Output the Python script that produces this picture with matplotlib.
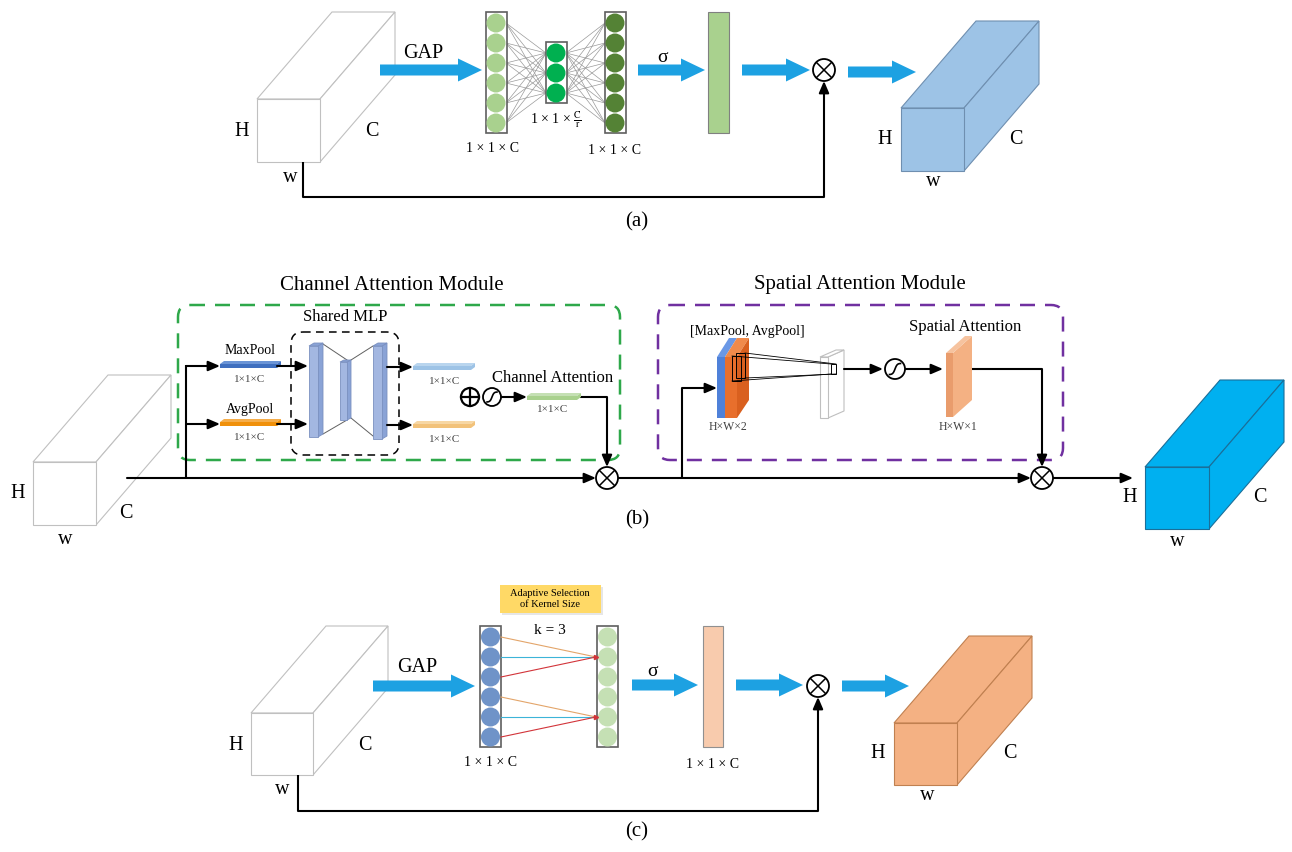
import numpy as np
import matplotlib.pyplot as plt
from matplotlib.patches import Rectangle, Polygon, Circle, FancyArrow, FancyBboxPatch

plt.rcParams['font.family'] = ['Liberation Serif', 'DejaVu Serif']
plt.rcParams['mathtext.fontset'] = 'stix'

# text content of the figure
panel_labels = ['(a)', '(b)', '(c)']
dim_labels = ['H', 'C', 'w']
module_titles = ['Channel Attention Module', 'Spatial Attention Module']
pool_labels = ['MaxPool', 'AvgPool']
vec_small = '1×1×C'
vec_label = '1 × 1 × C'
vec_reduced = r'1 × 1 × $\frac{\mathrm{C}}{\mathrm{r}}$'
spatial_labels = ['[MaxPool, AvgPool]', 'Spatial Attention', 'H×W×2', 'H×W×1']
eca_box = 'Adaptive Selection\nof Kernel Size'
eca_k = 'k = 3'

# network structure
se_neurons = [6, 3, 6]
se_colors = ['#a9d18e', '#00b050', '#548235']
eca_neurons = [6, 6]
eca_groups = [[0, 1, 2], [3, 4, 5]]
eca_targets = [1, 4]
eca_line_colors = ['#e3a56a', '#3cb4d8', '#d2343a']

BLUE = '#1da1e2'

fig = plt.figure(figsize=(12.92, 8.52), dpi=100)
ax = fig.add_axes([0, 0, 1, 1])
ax.set_xlim(0, 1292)
ax.set_ylim(852, 0)
ax.axis('off')


def txt(x, y, s, size, color='black', **kw):
    ax.text(x, y, s, fontsize=size, color=color, ha='center', va='center', **kw)


def line(xs, ys, lw=1.5, color='black'):
    ax.plot(xs, ys, color=color, lw=lw, solid_capstyle='butt', zorder=2)


def arrow(x0, y0, x1, y1):
    ax.annotate('', xy=(x1, y1), xytext=(x0, y0),
                arrowprops=dict(arrowstyle='-|>,head_length=0.7,head_width=0.3',
                                color='black', lw=1.5, shrinkA=0, shrinkB=0,
                                mutation_scale=10), zorder=3)


def block_arrow(x0, x1, y):
    ax.add_patch(FancyArrow(x0, y, x1 - x0, 0, width=11, head_width=23, head_length=24,
                            length_includes_head=True, fc=BLUE, ec='none', zorder=2))


def otimes(x, y, r=11):
    ax.add_patch(Circle((x, y), r, fc='white', ec='black', lw=1.3, zorder=4))
    d = r * 0.68
    ax.plot([x - d, x + d], [y - d, y + d], color='black', lw=1.1, zorder=5)
    ax.plot([x - d, x + d], [y + d, y - d], color='black', lw=1.1, zorder=5)


def oplus(x, y, r=9):
    ax.add_patch(Circle((x, y), r, fc='white', ec='black', lw=1.6, zorder=4))
    ax.plot([x - r, x + r], [y, y], color='black', lw=1.6, zorder=5)
    ax.plot([x, x], [y - r, y + r], color='black', lw=1.6, zorder=5)


def sigm(x, y, r=9):
    ax.add_patch(Circle((x, y), r, fc='white', ec='black', lw=1.3, zorder=4))
    t = np.linspace(-1, 1, 40)
    ax.plot(x + 0.55 * r * t, y - 0.55 * r * np.tanh(2.5 * t) / np.tanh(2.5),
            color='black', lw=1.2, zorder=5)


def cuboid(x, y, w, h, face, edge, lw=0.8, dx=75, dy=-87):
    top = [(x, y), (x + dx, y + dy), (x + w + dx, y + dy), (x + w, y)]
    side = [(x + w, y), (x + w + dx, y + dy), (x + w + dx, y + h + dy), (x + w, y + h)]
    for pts in (top, side):
        ax.add_patch(Polygon(pts, closed=True, fc=face, ec=edge, lw=lw, zorder=1))
    ax.add_patch(Rectangle((x, y), w, h, fc=face, ec=edge, lw=lw, zorder=1))


def flat_bar(x, y, w, front, top, h=4, dx=4, dy=-3):
    ax.add_patch(Polygon([(x, y), (x + dx, y + dy), (x + w + dx, y + dy), (x + w, y)],
                         closed=True, fc=top, ec='none', zorder=3))
    ax.add_patch(Polygon([(x + w, y), (x + w + dx, y + dy), (x + w + dx, y + h + dy), (x + w, y + h)],
                         closed=True, fc=front, ec='none', zorder=3))
    ax.add_patch(Rectangle((x, y), w, h, fc=front, ec='none', zorder=3))


def slab(x, y, w, h, dx, dy, front, side, top=None, edge='none', lw=0.6):
    ax.add_patch(Polygon([(x + w, y), (x + w + dx, y + dy), (x + w + dx, y + h + dy), (x + w, y + h)],
                         closed=True, fc=side, ec=edge, lw=lw, zorder=3))
    ax.add_patch(Polygon([(x, y), (x + dx, y + dy), (x + w + dx, y + dy), (x + w, y)],
                         closed=True, fc=top if top else side, ec=edge, lw=lw, zorder=3))
    ax.add_patch(Rectangle((x, y), w, h, fc=front, ec=edge, lw=lw, zorder=3))


def neuron_column(xc, ytop, n, color, width=21, step=20, r=9.5):
    ax.add_patch(Rectangle((xc - width / 2, ytop), width, n * step + 1, fc='white',
                           ec='#5f5f5f', lw=1.2, zorder=2))
    ys = [ytop + 11 + step * i for i in range(n)]
    for yc in ys:
        ax.add_patch(Circle((xc, yc), r, fc=color, ec='none', zorder=3))
    return ys


# ---------------- (a) SE block ----------------
cuboid(257, 99, 63, 63, 'white', '#c0c0c0')
for s, (x, y) in zip(dim_labels, [(242, 132), (372, 132), (290, 177)]):
    txt(x, y, s, 14.5)
block_arrow(380, 482, 70)
txt(423, 54, 'GAP', 14.5)

cols_x = [496, 556, 615]
cols_top = [12, 42, 12]
col_ys = [neuron_column(x, t, n, c) for x, t, n, c in zip(cols_x, cols_top, se_neurons, se_colors)]
for (xa, ya), (xb, yb) in [((cols_x[0], col_ys[0]), (cols_x[1], col_ys[1])),
                           ((cols_x[1], col_ys[1]), (cols_x[2], col_ys[2]))]:
    for y0 in ya:
        for y1 in yb:
            ax.plot([xa + 10, xb - 10], [y0, y1], color='#9a9a9a', lw=0.5, zorder=1)
txt(492, 148, vec_label, 10)
txt(556, 120, vec_reduced, 10)
txt(614, 150, vec_label, 10)

block_arrow(638, 705, 70)
txt(663, 58, 'σ', 14)
ax.add_patch(Rectangle((708, 12), 21, 121, fc='#a9d18e', ec='#808080', lw=0.8, zorder=2))
block_arrow(742, 810, 70)
otimes(824, 70)
block_arrow(848, 916, 72)
cuboid(901, 108, 63, 63, '#9dc3e6', '#6f8fb0')
for s, (x, y) in zip(dim_labels, [(885, 140), (1016, 140), (933, 182)]):
    txt(x, y, s, 14.5)
line([303, 303, 824], [162, 197, 197])
arrow(824, 197, 824, 81)
txt(637, 222, panel_labels[0], 15)

# ---------------- (b) CBAM ----------------
cuboid(33, 462, 63, 63, 'white', '#c0c0c0')
for s, (x, y) in zip(dim_labels, [(18, 493), (126, 513), (65, 540)]):
    txt(x, y, s, 14.5)

ax.add_patch(FancyBboxPatch((178, 305), 442, 155, boxstyle='round,pad=0,rounding_size=12',
                            fill=False, ec='#2ea84a', ls=(0, (6, 4)), lw=1.8, zorder=1))
ax.add_patch(FancyBboxPatch((658, 305), 405, 155, boxstyle='round,pad=0,rounding_size=12',
                            fill=False, ec='#7030a0', ls=(0, (6, 4)), lw=1.8, zorder=1))
txt(392, 285, module_titles[0], 15)
txt(860, 285, module_titles[1], 15)
ax.add_patch(FancyBboxPatch((291, 332), 108, 123, boxstyle='round,pad=0,rounding_size=12',
                            fill=False, ec='black', ls=(0, (5, 3.5)), lw=1.1, zorder=1))
txt(345, 317, 'Shared MLP', 12)

# main trunk
arrow(127, 478, 596, 478)
otimes(607, 478)
arrow(618, 478, 1031, 478)
otimes(1042, 478)
arrow(1053, 478, 1133, 478)

# channel attention branch
line([186, 186], [478, 365])
arrow(186, 366, 220, 366)
arrow(186, 424, 220, 424)
flat_bar(220, 364, 57, '#3f6fbf', '#6a94d6')
flat_bar(220, 422, 57, '#f0900a', '#f5ad4a')
txt(250, 350, pool_labels[0], 10)
txt(250, 379, vec_small, 8, color='#404040')
txt(250, 409, pool_labels[1], 10)
txt(250, 438, vec_small, 8, color='#404040')
arrow(277, 366, 308, 366)
arrow(277, 424, 308, 424)

# shared MLP slabs
mlp_front, mlp_side, mlp_edge = '#a3b7e1', '#8aa3d6', '#7a90c0'
slab(309, 346, 9, 91, 5, -3, mlp_front, mlp_side, edge=mlp_edge)
slab(340, 362, 7, 58, 4, -2, mlp_front, mlp_side, edge=mlp_edge)
slab(373, 346, 9, 93, 5, -3, mlp_front, mlp_side, edge=mlp_edge)
for xs, ys in [([323, 347], [344, 360]), ([351, 373], [360, 346]),
               ([323, 347], [434, 420]), ([351, 373], [418, 436])]:
    ax.plot(xs, ys, color='#606060', lw=0.7, zorder=2)

arrow(387, 367, 413, 367)
flat_bar(413, 366, 58, '#9dc3e6', '#b9d5ee')
txt(445, 381, vec_small, 8, color='#404040')
arrow(387, 425, 413, 425)
flat_bar(413, 424, 58, '#f2c27a', '#f7d7a4')
txt(445, 439, vec_small, 8, color='#404040')

oplus(470, 397, 9)
sigm(492, 397, 9)
arrow(501, 397, 527, 397)
flat_bar(527, 396, 50, '#a9d18e', '#c5e0b4')
txt(553, 378, 'Channel Attention', 12)
txt(553, 409, vec_small, 8, color='#404040')
line([580, 607], [397, 397])
arrow(607, 397, 607, 467)

# spatial attention branch
line([682, 682], [478, 388])
arrow(682, 388, 717, 388)
txt(747, 332, spatial_labels[0], 10)
ax.add_patch(Polygon([(717, 357), (729, 338), (737, 338), (725, 357)], closed=True,
                     fc='#6a98e6', ec='none', zorder=3))
ax.add_patch(Polygon([(725, 357), (737, 338), (749, 338), (737, 357)], closed=True,
                     fc='#f08a4b', ec='none', zorder=3))
ax.add_patch(Polygon([(737, 357), (749, 338), (749, 400), (737, 418)], closed=True,
                     fc='#d9601f', ec='none', zorder=3))
ax.add_patch(Rectangle((717, 357), 8, 61, fc='#4f81d9', ec='none', zorder=3))
ax.add_patch(Rectangle((725, 357), 12, 61, fc='#e86f2c', ec='none', zorder=3))
# kernel cube and receptive field
ax.add_patch(Rectangle((732, 356), 9, 25, fill=False, ec='black', lw=0.7, zorder=4))
ax.add_patch(Rectangle((736, 353), 9, 25, fill=False, ec='black', lw=0.7, zorder=4))
# white feature slab
slab(820, 357, 8, 61, 16, -7, 'white', 'white', edge='#bfbfbf', lw=0.8)
ax.add_patch(Rectangle((831, 364), 5, 10, fill=False, ec='black', lw=0.7, zorder=4))
for (x0, y0), (x1, y1) in [((745, 353), (836, 364)), ((745, 378), (836, 374)),
                           ((732, 356), (831, 364)), ((732, 381), (831, 374))]:
    ax.plot([x0, x1], [y0, y1], color='black', lw=0.6, zorder=4)
arrow(844, 369, 883, 369)
sigm(895, 369, 10)
arrow(905, 369, 943, 369)
slab(946, 353, 7, 64, 19, -17, '#e99c6c', '#f4b183', top='#f6c39f')
txt(965, 327, spatial_labels[1], 12)
txt(728, 427, spatial_labels[2], 8.5, color='#404040')
txt(958, 427, spatial_labels[3], 8.5, color='#404040')
line([972, 1042], [369, 369])
arrow(1042, 369, 1042, 467)

cuboid(1145, 467, 64, 62, '#00b0f0', '#1a6f9a')
for s, (x, y) in zip(dim_labels, [(1130, 498), (1260, 498), (1177, 542)]):
    txt(x, y, s, 14.5)
txt(637, 520, panel_labels[1], 15)

# ---------------- (c) ECA block ----------------
cuboid(251, 713, 62, 62, 'white', '#c0c0c0')
for s, (x, y) in zip(dim_labels, [(236, 745), (365, 745), (282, 790)]):
    txt(x, y, s, 14.5)
block_arrow(373, 475, 686)
txt(417, 668, 'GAP', 14.5)

ax.add_patch(Rectangle((502, 587), 101, 28, fc='#e6e6e6', ec='none', zorder=1))
ax.add_patch(Rectangle((500, 585), 101, 28, fc='#ffd966', ec='none', zorder=2))
txt(550, 599, eca_box, 7.5, linespacing=1.15)
txt(550, 630, eca_k, 11)

ys_in = neuron_column(490.5, 626, eca_neurons[0], '#6f93c8')
ys_out = neuron_column(607.5, 626, eca_neurons[1], '#c5e0b4')
for grp, tgt in zip(eca_groups, eca_targets):
    for idx, col in zip(grp, eca_line_colors):
        ax.plot([501, 596], [ys_in[idx], ys_out[tgt]], color=col, lw=0.8, zorder=4)
    ax.plot(596, ys_out[tgt], marker='>', color='#d2343a', ms=3, zorder=5)
txt(490, 762, vec_label, 10)

block_arrow(632, 698, 685)
txt(653, 672, 'σ', 14)
ax.add_patch(Rectangle((703, 626), 20, 121, fc='#f8cbad', ec='#909090', lw=0.8, zorder=2))
txt(712, 765, vec_label, 10)
block_arrow(736, 803, 685)
otimes(818, 686)
block_arrow(842, 909, 686)
cuboid(894, 723, 63, 62, '#f4b183', '#c08050')
for s, (x, y) in zip(dim_labels, [(878, 753), (1010, 753), (927, 795)]):
    txt(x, y, s, 14.5)
line([298, 298, 818], [775, 811, 811])
arrow(818, 811, 818, 697)
txt(637, 832, panel_labels[2], 15)

fig.savefig('out.png', dpi=100)
